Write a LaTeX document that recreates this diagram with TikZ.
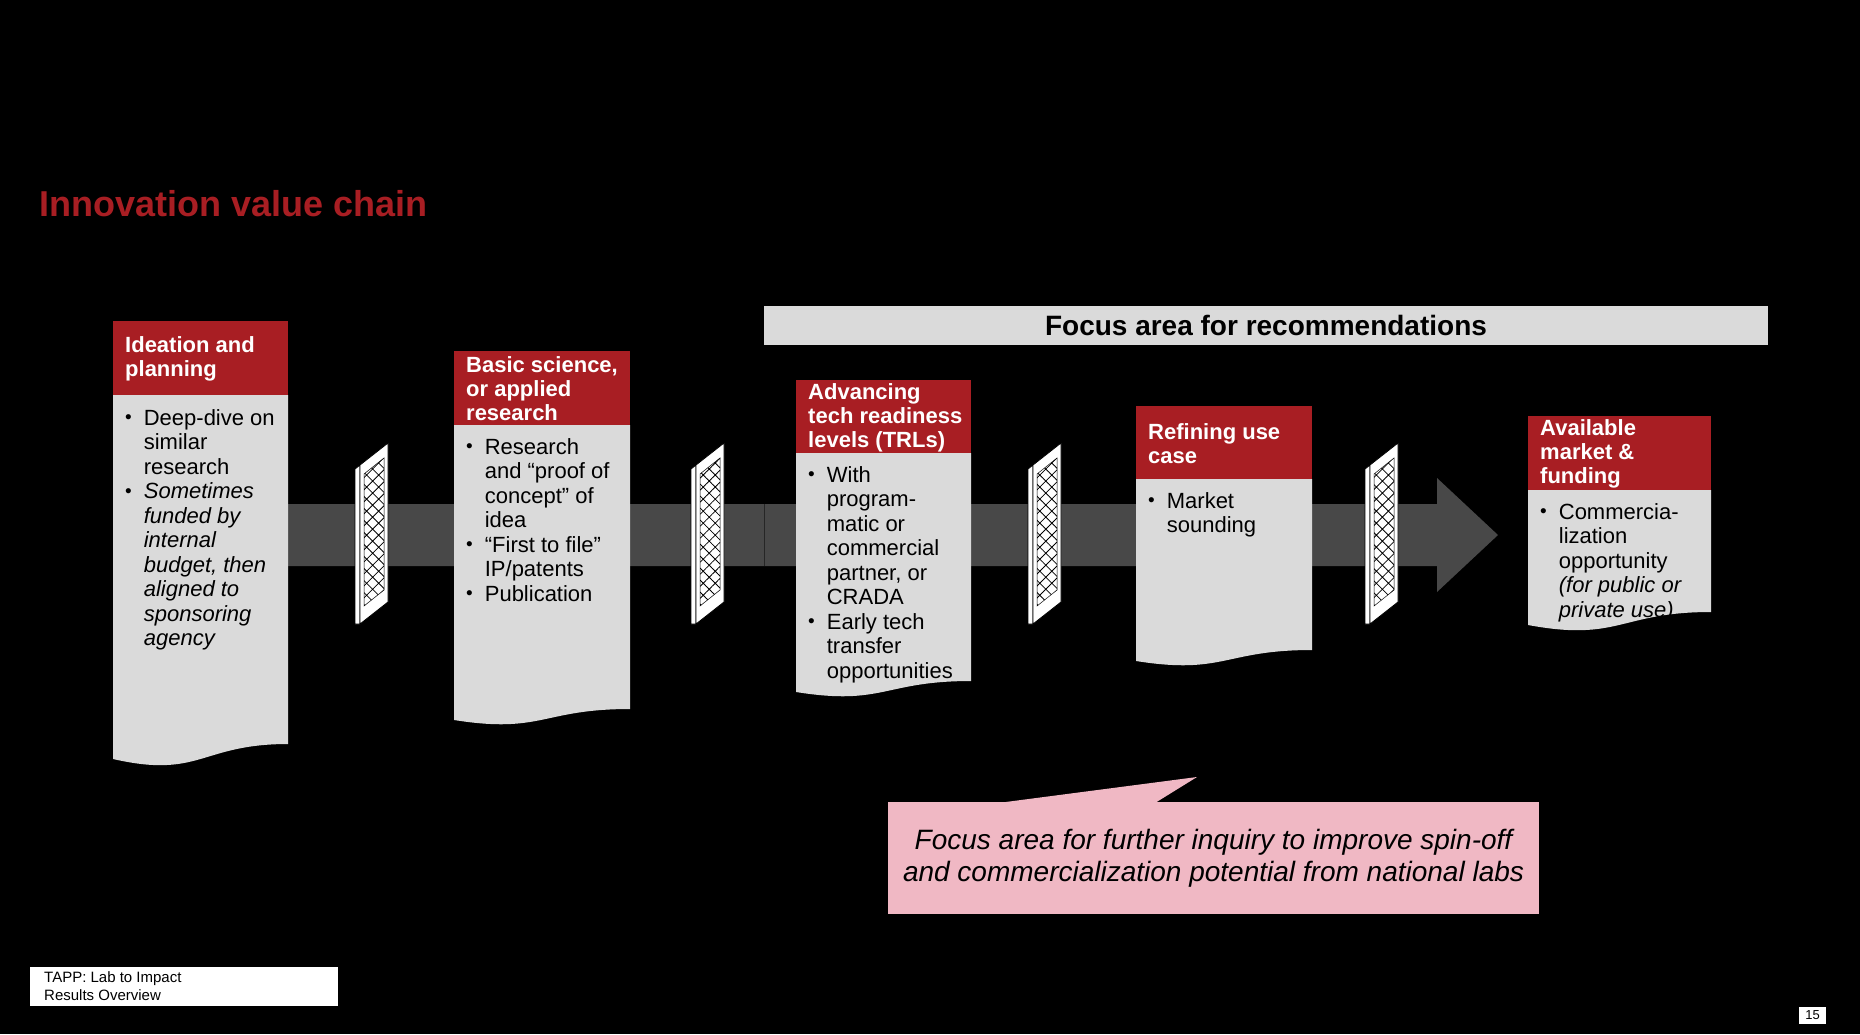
\documentclass[tikz,border=0pt]{standalone}
\usepackage{fontspec}
\setmainfont{Liberation Sans}
\usetikzlibrary{patterns.meta}
\definecolor{chainred}{RGB}{168,30,35}
\definecolor{boxgray}{RGB}{218,218,218}
\definecolor{bandgray}{RGB}{72,72,72}
\definecolor{notepink}{RGB}{240,184,196}
\newcommand{\dotmark}{\raisebox{1.5pt}{\fontsize{19}{19}\selectfont •}}

\begin{document}
\begin{tikzpicture}[x=1pt,y=-1pt,
	headbox/.style={fill=chainred},
	bodybox/.style={fill=boxgray},
	headtext/.style={anchor=west,inner sep=0,align=left,text=white,font=\bfseries\fontsize{22}{24}\selectfont},
	bodytext/.style={anchor=north west,inner sep=0,font=\fontsize{22}{24.5}\selectfont},
	gate/.pic={
		\filldraw[fill=white,line width=0.8pt] (0,469) -- (5,465) -- (5,624) -- (0,624) -- cycle;
		\filldraw[fill=white,line width=0.8pt] (5,465) -- (33,443) -- (33,602) -- (5,624) -- cycle;
		\draw[line width=0.5pt,pattern={Hatch[angle=45,distance=8.5pt,line width=0.8pt]}] (9,474) -- (29,458) -- (29,590) -- (9,606) -- cycle;
	}]
	\fill[black] (0,0) rectangle (1860,1034);
	\path[use as bounding box] (0,0) rectangle (1860,1034);

	\node[anchor=west,inner sep=0,text=chainred,font=\bfseries\fontsize{36}{40}\selectfont] (title) at (39,204) {Innovation value chain};
	\node[fill=boxgray,minimum width=1004pt,minimum height=39pt,inner sep=0,font=\bfseries\fontsize{28}{32}\selectfont] (focus) at (1266,325.5) {Focus area for recommendations};

	\fill[bandgray] (280,504) -- (1437,504) -- (1437,478) -- (1498,535) -- (1437,592) -- (1437,566) -- (280,566) -- cycle;
	\draw[black!85,line width=1pt] (764,504) -- (764,566);

	\fill[headbox] (113,321) rectangle (288,395);
	\fill[bodybox] (113,395) -- (288,395) -- (288,744) .. controls (200.5,744) and (200.5,779) .. (113,759) -- cycle;
	\node[headtext] (h1) at (125,359) {Ideation and\\planning};
	\node[bodytext] (b1) at (125,408) {\begin{tabular}{@{}l@{\hspace{12pt}}l@{}}
		\dotmark & Deep-dive on\\
		& similar\\
		& research\\
		\dotmark & \itshape Sometimes\\
		& \itshape funded by\\
		& \itshape internal\\
		& \itshape budget, then\\
		& \itshape aligned to\\
		& \itshape sponsoring\\
		& \itshape agency
	\end{tabular}};

	\fill[headbox] (454,351) rectangle (630,425);
	\fill[bodybox] (454,425) -- (630,425) -- (630,709) .. controls (542,709) and (542,734) .. (454,720) -- cycle;
	\node[headtext] (h2) at (466,389) {Basic science,\\or applied\\research};
	\node[bodytext] (b2) at (466,437) {\begin{tabular}{@{}l@{\hspace{12pt}}l@{}}
		\dotmark & Research\\
		& and “proof of\\
		& concept” of\\
		& idea\\
		\dotmark & “First to file”\\
		& IP/patents\\
		\dotmark & Publication
	\end{tabular}};

	\fill[headbox] (796,380) rectangle (971,453);
	\fill[bodybox] (796,453) -- (971,453) -- (971,681) .. controls (883.5,681) and (883.5,706) .. (796,692) -- cycle;
	\node[headtext] (h3) at (808,417.5) {Advancing\\tech readiness\\levels (TRLs)};
	\node[bodytext] (b3) at (808,465) {\begin{tabular}{@{}l@{\hspace{12pt}}l@{}}
		\dotmark & With\\
		& program-\\
		& matic or\\
		& commercial\\
		& partner, or\\
		& CRADA\\
		\dotmark & Early tech\\
		& transfer\\
		& opportunities
	\end{tabular}};

	\fill[headbox] (1136,406) rectangle (1312,479);
	\fill[bodybox] (1136,479) -- (1312,479) -- (1312,650) .. controls (1224,650) and (1224,675) .. (1136,661) -- cycle;
	\node[headtext] (h4) at (1148,443.5) {Refining use\\case};
	\node[bodytext] (b4) at (1148,491) {\begin{tabular}{@{}l@{\hspace{12pt}}l@{}}
		\dotmark & Market\\
		& sounding
	\end{tabular}};

	\fill[headbox] (1528,416) rectangle (1711,490);
	\fill[bodybox] (1528,490) -- (1711,490) -- (1711,612) .. controls (1619.5,612) and (1619.5,642) .. (1528,625) -- cycle;
	\node[headtext] (h5) at (1540,454) {Available\\market \&\\funding};
	\node[bodytext] (b5) at (1540,502) {\begin{tabular}{@{}l@{\hspace{12pt}}l@{}}
		\dotmark & Commercia-\\
		& lization\\
		& opportunity\\
		& \itshape (for public or\\
		& \itshape private use)
	\end{tabular}};

	\pic (g1) at (355,0) {gate};
	\pic (g2) at (691,0) {gate};
	\pic (g3) at (1028,0) {gate};
	\pic (g4) at (1365,0) {gate};

	\node[fill=notepink,minimum width=651pt,minimum height=112pt,inner sep=0,align=center,font=\itshape\fontsize{28}{32}\selectfont] (note) at (1213.5,858) {Focus area for further inquiry to improve spin-off\\and commercialization potential from national labs};
	\fill[notepink] (998,803) -- (1197,777) -- (1155,803) -- cycle;

	\fill[white] (30,967) rectangle (338,1006);
	\node[anchor=west,align=left,inner sep=0,font=\fontsize{15}{18}\selectfont] (foot) at (44,986) {TAPP: Lab to Impact\\Results Overview};
	\node[fill=white,minimum width=27pt,minimum height=17pt,inner sep=0,font=\fontsize{13}{13}\selectfont] (pagenum) at (1812.5,1015.5) {15};
\end{tikzpicture}
\end{document}
